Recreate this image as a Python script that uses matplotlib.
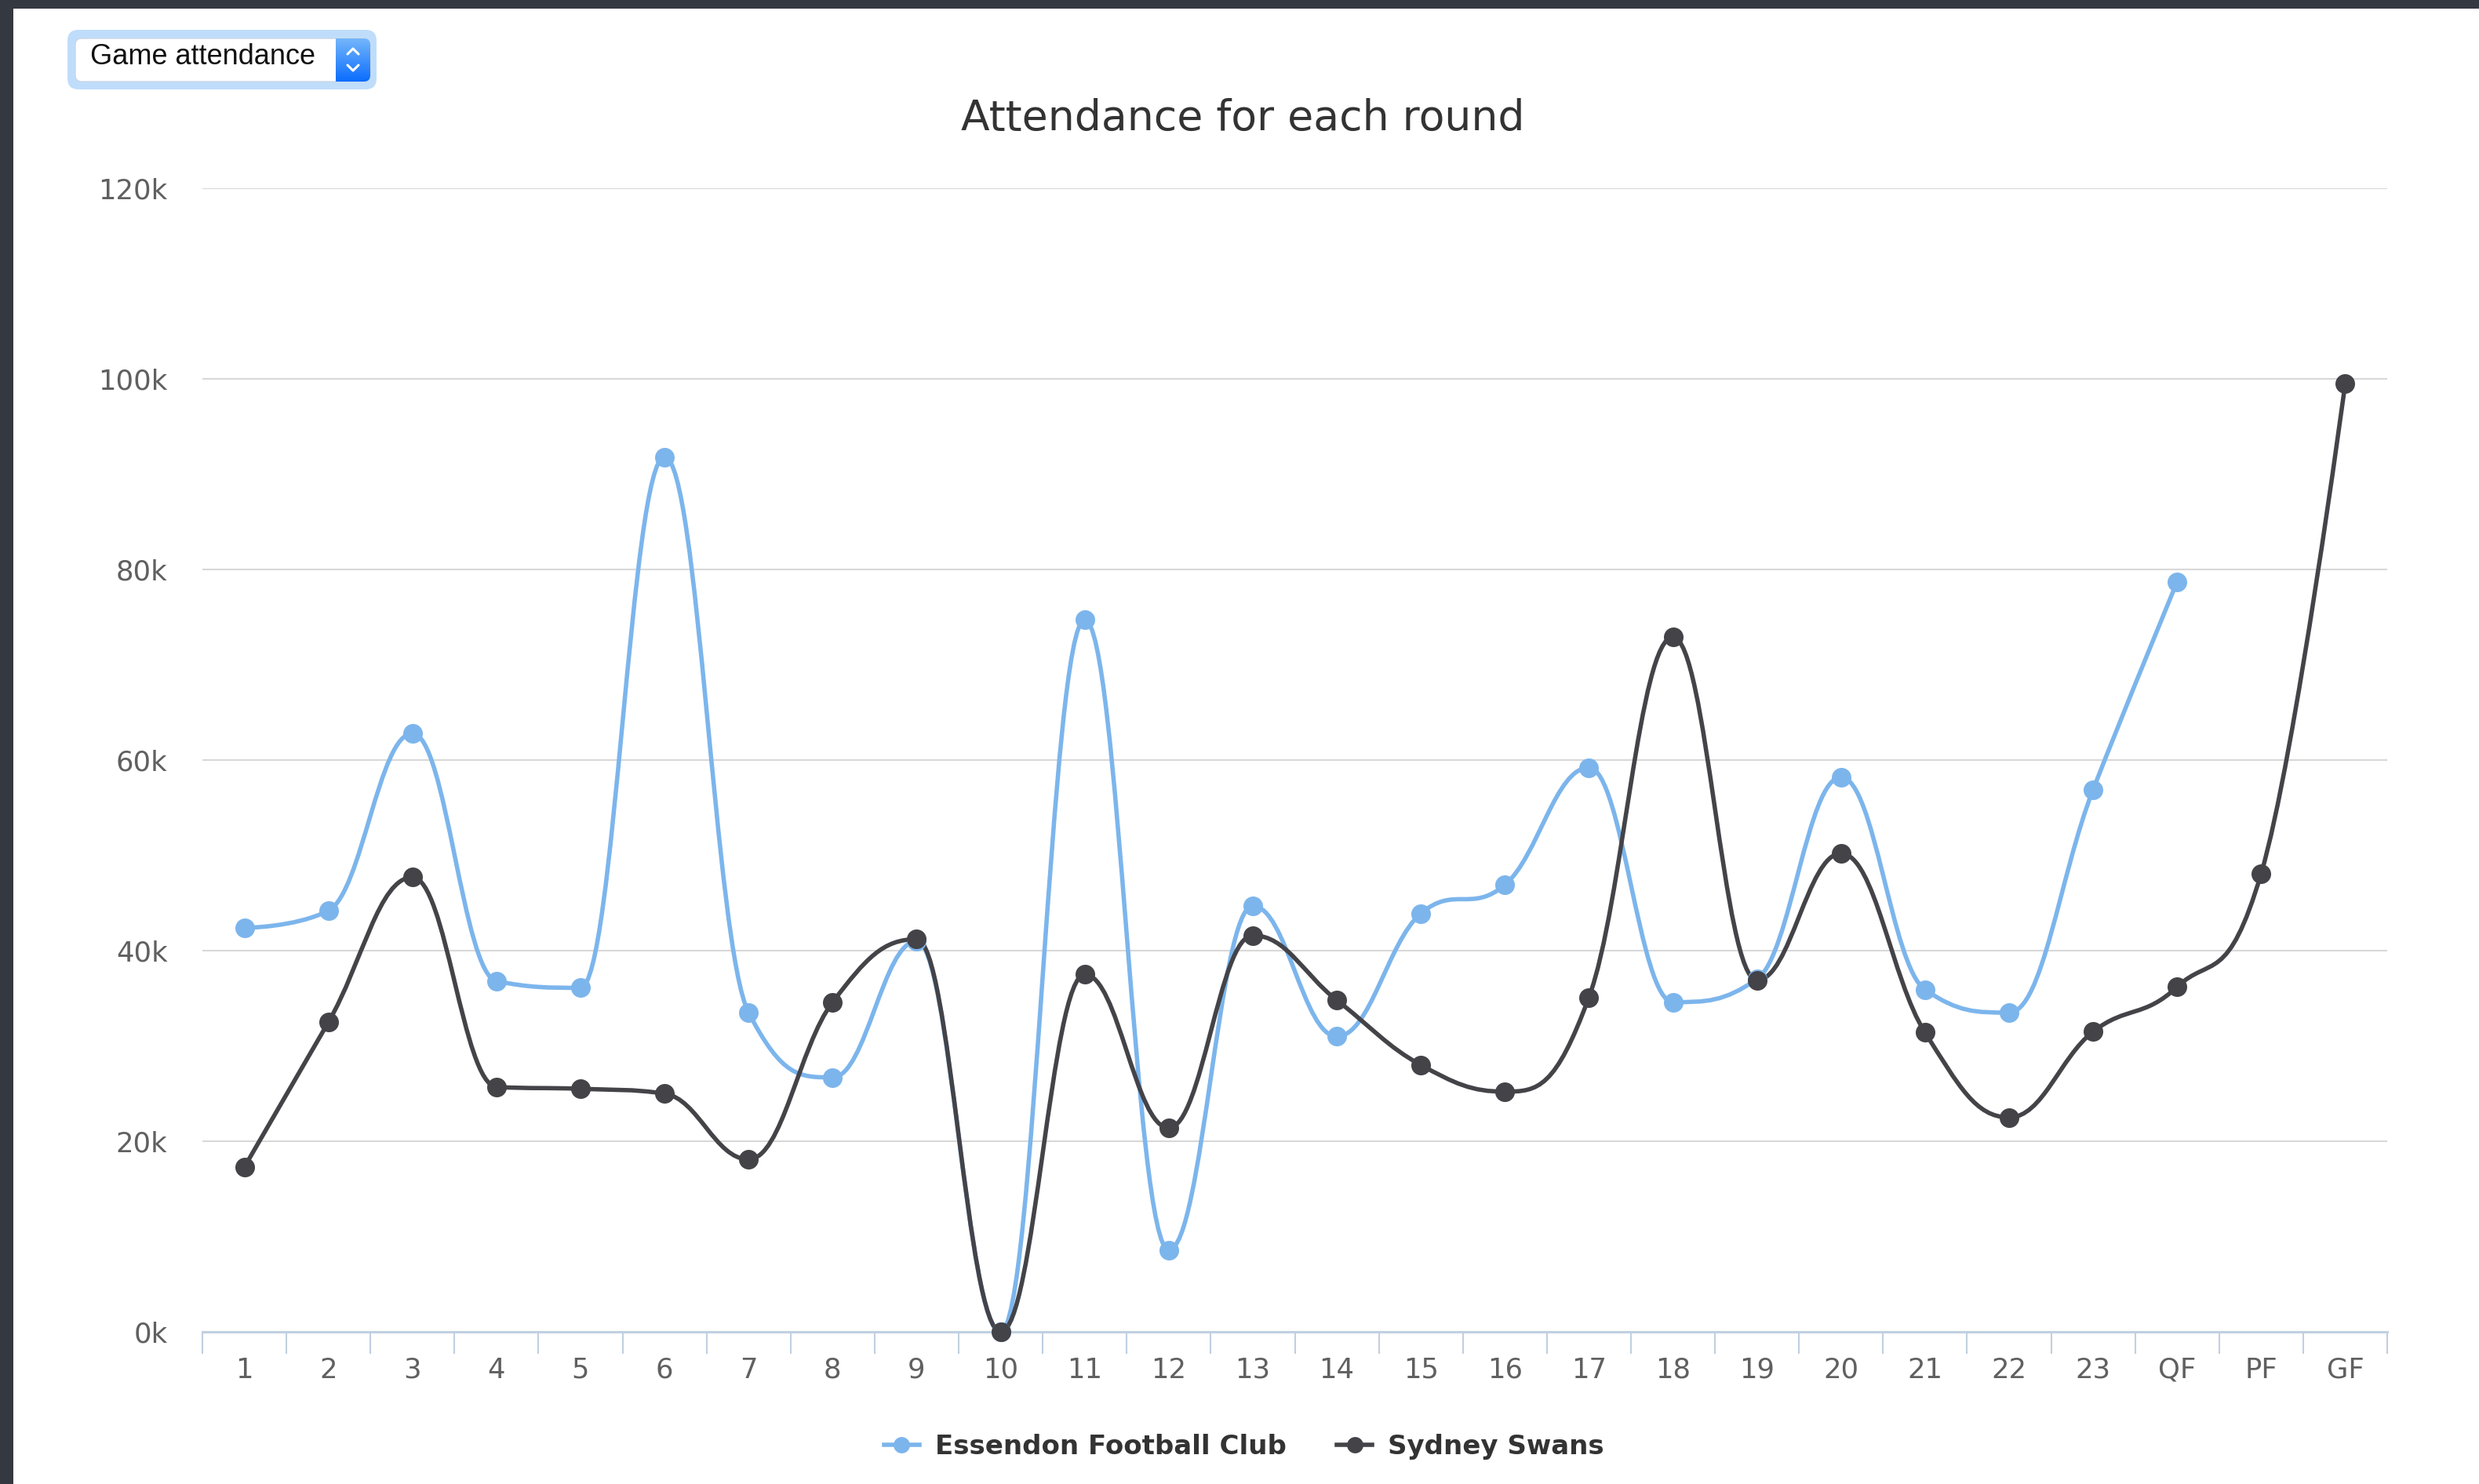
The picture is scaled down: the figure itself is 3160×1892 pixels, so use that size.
import matplotlib
matplotlib.use("Agg")
import matplotlib.pyplot as plt
import numpy as np
from matplotlib.path import Path
from matplotlib.patches import PathPatch, FancyBboxPatch, Rectangle
from matplotlib.lines import Line2D
from matplotlib.colors import LinearSegmentedColormap

plt.rcParams['font.family'] = ['DejaVu Sans']

# ---- data ----
rounds = ['1', '2', '3', '4', '5', '6', '7', '8', '9', '10', '11', '12', '13',
          '14', '15', '16', '17', '18', '19', '20', '21', '22', '23', 'QF', 'PF', 'GF']
essendon = [42400, 44200, 62800, 36800, 36100, 91800, 33500, 26700, 41000, 0,
            74700, 8600, 44700, 31000, 43900, 46900, 59200, 34600, 37000, 58200,
            35900, 33500, 56900, 78700]
sydney = [17300, 32500, 47700, 25700, 25500, 25000, 18100, 34600, 41200, 0,
          37500, 21400, 41600, 34800, 28000, 25200, 35100, 72900, 36900, 50200,
          31400, 22500, 31500, 36200, 48100, 99500]
series_names = ['Essendon Football Club', 'Sydney Swans']
series_colors = ['#7cb5ec', '#434348']
y_ticks = [0, 20000, 40000, 60000, 80000, 100000, 120000]
y_tick_labels = ['0k', '20k', '40k', '60k', '80k', '100k', '120k']

W, H = 3160, 1892
fig = plt.figure(figsize=(W / 100, H / 100), dpi=100, facecolor='white')


def spline_path(xs, ys, smoothing=1.5):
    """Cubic spline path with the smoothing/clamping rules used for Highcharts splines."""
    n = len(xs)
    left = [None] * n
    right = [None] * n
    d = smoothing + 1
    for i in range(n):
        x, y = xs[i], ys[i]
        if i == 0 or i == n - 1:
            left[i] = right[i] = (x, y)
            continue
        lx, ly = xs[i - 1], ys[i - 1]
        nx, ny = xs[i + 1], ys[i + 1]
        lcx = (smoothing * x + lx) / d
        lcy = (smoothing * y + ly) / d
        rcx = (smoothing * x + nx) / d
        rcy = (smoothing * y + ny) / d
        if rcx != lcx:
            corr = ((rcy - lcy) * (rcx - x)) / (rcx - lcx) + y - rcy
            lcy += corr
            rcy += corr
        if lcy > ly and lcy > y:
            lcy = max(ly, y)
            rcy = 2 * y - lcy
        elif lcy < ly and lcy < y:
            lcy = min(ly, y)
            rcy = 2 * y - lcy
        if rcy > ny and rcy > y:
            rcy = max(ny, y)
            lcy = 2 * y - rcy
        elif rcy < ny and rcy < y:
            rcy = min(ny, y)
            lcy = 2 * y - rcy
        left[i] = (lcx, lcy)
        right[i] = (rcx, rcy)
    verts = [(xs[0], ys[0])]
    codes = [Path.MOVETO]
    for i in range(1, n):
        verts += [right[i - 1], left[i], (xs[i], ys[i])]
        codes += [Path.CURVE4] * 3
    return Path(verts, codes)


# ---- main chart ----
ax = fig.add_axes([258 / W, 1 - 1698 / H, (3043 - 258) / W, (1698 - 240) / H])
ax.set_facecolor('none')
ax.set_xlim(-0.5, len(rounds) - 0.5)
ax.set_ylim(0, 120000)

for name, vals, col in zip(series_names, [essendon, sydney], series_colors):
    xs = np.arange(len(vals), dtype=float)
    ys = np.array(vals, dtype=float)
    patch = PathPatch(spline_path(xs, ys), facecolor='none', edgecolor=col,
                      lw=4.0, capstyle='round', joinstyle='round', zorder=3,
                      clip_on=False)
    ax.add_patch(patch)
    ax.plot(xs, ys, linestyle='none', marker='o', ms=18, color=col,
            markeredgewidth=0, zorder=4, clip_on=False)

# grid
ax.set_yticks(y_ticks)
ax.set_yticklabels(y_tick_labels)
ax.yaxis.grid(True, color='#D8D8D8', lw=1.5)
ax.set_axisbelow(True)
ax.tick_params(axis='y', length=0, pad=32, labelsize=25.5, labelcolor='#606060')

# x axis: ticks on category boundaries, labels on category centres
ax.set_xticks(np.arange(len(rounds) + 1) - 0.5)
ax.set_xticklabels([])
ax.set_xticks(np.arange(len(rounds)), minor=True)
ax.set_xticklabels(rounds, minor=True)
ax.tick_params(axis='x', which='major', length=20, width=1.5, color='#C0D0E0',
               direction='out')
ax.tick_params(axis='x', which='minor', length=0, pad=23, labelsize=25.5,
               labelcolor='#606060')
for s in ['top', 'right', 'left']:
    ax.spines[s].set_visible(False)
ax.spines['bottom'].set_color('#C0D0E0')
ax.spines['bottom'].set_linewidth(2.2)
ax.spines['bottom'].set_zorder(2)

# title
fig.text(1584 / W, 1 - 151 / H, 'Attendance for each round', ha='center',
         va='center', fontsize=38.6, color='#333333')

# legend
handles = [Line2D([], [], color=c, lw=4.0, marker='o', ms=15, markeredgewidth=0)
           for c in series_colors]
leg = fig.legend(handles, series_names, loc='center', ncol=2,
                 bbox_to_anchor=(1586 / W, 1 - 1844 / H), frameon=False,
                 handlelength=1.3, handletextpad=0.6, columnspacing=1.9,
                 prop={'weight': 'bold', 'size': 24.5})
for t in leg.get_texts():
    t.set_color('#333333')

# ---- page decoration: frame and dropdown ----
ov = fig.add_axes([0, 0, 1, 1], zorder=-1)
ov.set_xlim(0, W)
ov.set_ylim(H, 0)
ov.axis('off')
ov.add_patch(Rectangle((0, 0), W, 11, color='#343841', lw=0))
ov.add_patch(Rectangle((0, 0), 17, H, color='#343841', lw=0))

ov2 = fig.add_axes([0, 0, 1, 1], zorder=5)
ov2.axis('off')
ov2.patch.set_alpha(0)
ov2.add_patch(FancyBboxPatch((92, 44), 382, 64, boxstyle='round,pad=6,rounding_size=14',
                             facecolor='#BFDDFB', edgecolor='none'))
ov2.add_patch(FancyBboxPatch((96, 49), 376, 55, boxstyle='round,pad=0,rounding_size=8',
                             facecolor='white', edgecolor='#C8D6E6', lw=1))
btn = FancyBboxPatch((428, 49), 44, 55, boxstyle='round,pad=0,rounding_size=8',
                     facecolor='none', edgecolor='none')
ov2.add_patch(btn)
grad = np.linspace(0, 1, 64).reshape(-1, 1)
cmap = LinearSegmentedColormap.from_list('btn', ['#74B6FB', '#0B6DFE'])
im = ov2.imshow(grad, cmap=cmap, extent=(428, 472, 104, 49), aspect='auto',
                interpolation='bilinear', zorder=2)
im.set_clip_path(btn)
# square off the left side of the button
ov2.imshow(grad, cmap=cmap, extent=(428, 440, 104, 49), aspect='auto',
           interpolation='bilinear', zorder=2)
ov2.plot([443, 450, 457], [69, 62, 69], color='white', lw=2.2,
         solid_capstyle='round', zorder=3)
ov2.plot([443, 450, 457], [83, 90, 83], color='white', lw=2.2,
         solid_capstyle='round', zorder=3)
ov2.text(115, 72, 'Game attendance', ha='left', va='center', fontsize=26,
         color='#111111', family=['Liberation Sans', 'DejaVu Sans'], zorder=3)
ov2.set_xlim(0, W)
ov2.set_ylim(H, 0)

fig.savefig('out.png', dpi=100, facecolor='white')
